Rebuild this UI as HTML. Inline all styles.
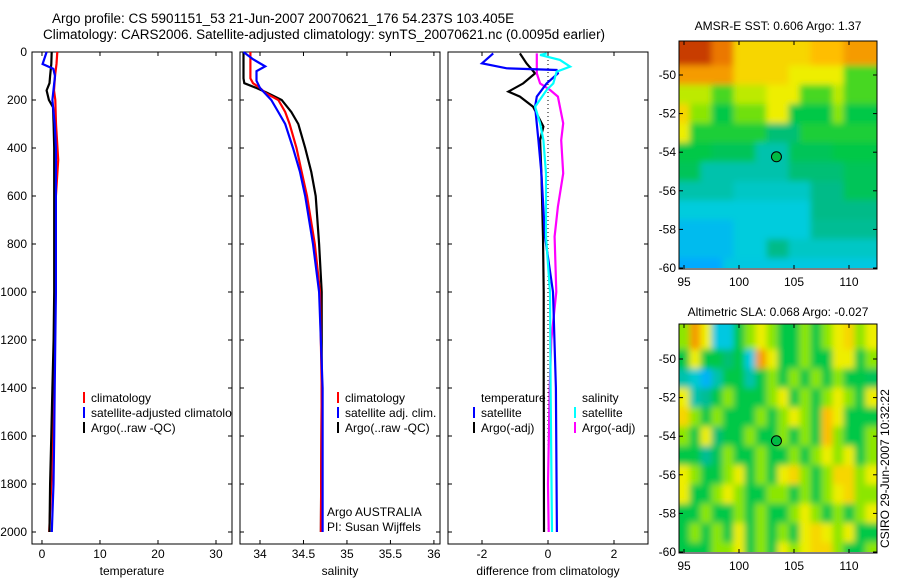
<!DOCTYPE html>
<html><head><meta charset="utf-8"><style>
body{margin:0;background:#fff;}
svg{display:block;font-family:"Liberation Sans",sans-serif;}
text{fill:#000;}
</style></head><body>
<svg id="fig" width="900" height="580" viewBox="0 0 900 580">
<defs>
<filter id="smooth" x="-5%" y="-5%" width="110%" height="110%"><feGaussianBlur stdDeviation="3.2" edgeMode="duplicate"/></filter>
<clipPath id="legclip"><rect x="32" y="380" width="200" height="60"/></clipPath>
</defs>
<text x="52" y="23" font-size="13.5">Argo profile: CS 5901151_53 21-Jun-2007 20070621_176 54.237S 103.405E</text>
<text x="43" y="39" font-size="13.5">Climatology: CARS2006. Satellite-adjusted climatology: synTS_20070621.nc (0.0095d earlier)</text>
<text x="778" y="30" font-size="12" text-anchor="middle">AMSR-E SST: 0.606 Argo: 1.37</text>
<text x="778" y="316" font-size="12" text-anchor="middle">Altimetric SLA: 0.068 Argo: -0.027</text>
<text transform="translate(889,548) rotate(-90)" font-size="12">CSIRO 29-Jun-2007 10:32:22</text>
</svg>
<script>
// ---- profile data ----
const depthTClim=[0,50,100,160,200,300,450,600,1000,1400,1800,2000];
const tClim=[2.64,2.5,2.24,2.07,2.3,2.41,2.8,2.4,2.36,2.0,1.6,1.25];
const depthTSat=[0,50,70,100,200,300,400,1000,1400,1600,1800,2000];
const tSat=[0.8,0.1,1.95,2.24,1.8,2.2,2.4,2.4,2.2,2.1,1.98,1.7];
const depthTArgo=[0,50,100,130,160,200,230,300,400,800,1000,1200,1400,1600,1800,2000];
const tArgo=[1.67,1.6,1.4,1.3,0.8,1.2,1.9,2.0,2.1,2.1,2.1,2.0,1.8,1.6,1.4,1.3];
const depthS=[0,110,130,150,170,200,250,300,400,500,600,800,1000,1400,2000];
const sArgo=[33.81,33.81,33.82,33.96,34.08,34.25,34.36,34.44,34.52,34.59,34.64,34.68,34.71,34.71,34.70];
const sClim=[33.89,33.89,33.92,34.0,34.06,34.21,34.29,34.34,34.42,34.48,34.54,34.63,34.69,34.71,34.70];
const depthSSat=[0,30,60,80,120,150,200,250,300,400,500,600,800,1000,1400,2000];
const sSat=[33.81,33.92,34.06,33.96,33.96,34.0,34.13,34.21,34.29,34.38,34.46,34.52,34.61,34.68,34.72,34.72];
const depthDiffTSat=[6,47,68,75,89,131,186,228,367,506,769,1000,1400,2000];
const dTSat=[-1.66,-2.0,-1.25,0.26,0.3,-0.04,-0.34,-0.39,-0.29,-0.2,-0.09,0.15,0.24,0.27];
const depthDiffTArgo=[6,47,89,131,165,186,228,311,367,506,769,1000,1400,2000];
const dTArgo=[-0.85,-0.65,-0.39,-0.75,-1.2,-0.85,-0.45,-0.14,-0.24,-0.2,-0.15,-0.13,-0.13,-0.12];
const depthDiffSSat=[6,12,33,61,82,131,158,228,297,367,506,769,1000,1400,2000];
const dSSat=[-0.04,-0.24,0.36,0.67,0.26,0.16,-0.04,-0.39,-0.24,-0.14,-0.06,-0.06,0.06,0.08,0.12];
const depthDiffSArgo=[6,89,131,158,186,297,367,506,644,769,1000,1200,1400,1800,2000];
const dSArgo=[-0.34,-0.34,-0.24,0.06,0.3,0.46,0.4,0.46,0.3,0.2,0.25,0.1,0.05,0.0,0.02];
const depthTicks=[0,200,400,600,800,1000,1200,1400,1600,1800,2000];
const tTicks=[0,10,20,30];
const sTicks=[34,34.5,35,35.5,36];
const sTickLabels=["34","34.5","35","35.5","36"];
const dTicks=[-2,0,2];
// ---- map data (rows lat 49..60, cols lon 95..112) ----
const mapLons=[95,96,97,98,99,100,101,102,103,104,105,106,107,108,109,110,111,112];
const mapLats=[49,50,51,52,53,54,55,56,57,58,59,60];
const sstGrid=[
[9,9,9,8,8,6.5,6.5,6.5,6.5,6.5,6.5,6.5,7,7,7,7.5,7.5,7.5],
[7.5,7.5,7.5,7.5,7.5,6.5,6.5,6.5,6.5,6.5,6,6,6,6,6,4.5,4.5,4.5],
[5.5,5.5,5.5,4.5,4.5,5.5,5.5,5.5,6,6,6,4.5,4.5,4.5,5.5,4.5,4.5,4.5],
[6.5,5,5,4,4,4.8,4.8,4.8,6,6,4,4,4,4,5,4,4,4],
[6,4.2,4.2,4.2,4.2,4.2,4.2,4.2,3.5,3.5,3.5,4.2,4.2,4.2,4.2,4.2,4.2,4.2],
[4,4,4,3.8,3.8,3.8,3.8,3,3,3,3.8,3.8,3.8,3.8,4,4,4,4],
[3.8,3.8,3,3,3,3,3,3,3,3,3.5,3.5,3.5,3.5,3.5,3.8,3.8,3.8],
[3,3,3,3,3,2.8,2.8,2.8,2.8,2.8,2.8,2.8,3.3,3.3,3.3,3.8,3.8,3.8],
[2.6,2.6,2.6,2.6,2.6,2.6,2.6,2.6,2.6,2.6,2.6,2.6,3.3,3.3,3.3,3.3,3.3,3.3],
[2.2,2.2,2.2,2.2,2.2,2.6,2.6,2.6,2.6,2.6,2.6,2.6,3.2,3.2,3.2,3.2,3.2,3.2],
[2.2,2.2,2.2,2.2,2.2,2.6,2.6,2.6,3.3,3.3,2.8,2.8,2.8,2.8,2.8,2.8,2.8,2.8],
[1.8,1.8,1.8,1.8,2.5,2.5,2.5,2.5,2.5,2.5,2.5,2.5,2.5,2.5,2.5,2.5,2.5,2.5]];
const slaGrid=[
[5,7.5,6,2.5,2.5,4,5,6,5,4,4,5,4,5,6,6.5,5,6],
[4,6,4,4,3.5,4,2.5,7.5,6,4,4,5,4,4,6,6,4,5],
[3,2.7,2,3,4,4,3,4,5,4,5,4,5,4,5,4,4,3.8],
[6,3,3.2,4,5,4,4,4,5,6,4,5,4,5,6,5,4,6],
[6.5,5,4,5,4,4,4,5,4,5,6,5,4,7,6,4,4,4],
[5,4,6,3.5,4,4,5,4,4,5,4,5,4,7,5,4,4,5],
[4,4,3.2,3.8,5,4,4,5,4,4,5,4,5,6,5,6,4,5],
[6,5,4,4,5,6,4,5,4,6,6.5,5,4,5,6.5,6.5,5,6],
[6,4,4,5,6,5,4,4,5,5,4,5,4,5,6,6.5,5,5],
[4,4,5,4,4,5,4,5,4,4,5,6,5,4,5,4,5,6],
[4,5,4,5,4,6,4,5,4,5,4,6,6.5,6,5,6,4,4],
[4,4,4,5,5,6,4,5,4,6,5,6,6.5,6.5,5,4,4,5]];
const argoLon=103.405, argoLat=54.237;

const NS='http://www.w3.org/2000/svg';
const svg=document.getElementById('fig');
function mk(tag,attrs,parent){const e=document.createElementNS(NS,tag);for(const k in attrs)e.setAttribute(k,attrs[k]);(parent||svg).appendChild(e);return e;}

const yTop=52, yBot=544, dMax=2050;
const yD=d=>yTop+(yBot-yTop)*d/dMax;
const panels=[
 {x0:32,x1:232,v0:-1.72,v1:32.76,name:'temperature-panel',title:'temperature'},
 {x0:240,x1:440,v0:33.77,v1:36.07,name:'salinity-panel',title:'salinity'},
 {x0:448,x1:648,v0:-3.03,v1:3.03,name:'difference-panel',title:'difference from climatology'}];
function xf(p){return v=>p.x0+(p.x1-p.x0)*(v-p.v0)/(p.v1-p.v0);}

panels.forEach((p,i)=>{
 const g=mk('g',{});
 
 
 const r=mk('rect',{x:p.x0,y:yTop,width:p.x1-p.x0,height:yBot-yTop,fill:'none',stroke:'#000','stroke-width':1},g);
 
 
 depthTicks.forEach(d=>{
  mk('line',{x1:p.x0,x2:p.x0+4,y1:yD(d),y2:yD(d),stroke:'#000'},g);
  mk('line',{x1:p.x1,x2:p.x1-4,y1:yD(d),y2:yD(d),stroke:'#000'},g);
  if(i===0){const t=mk('text',{x:p.x0-5,y:yD(d)+4,'font-size':12,'text-anchor':'end'},g);t.textContent=d;
   
   }
 });
 const X=xf(p);
 const ticks=i===0?tTicks:i===1?sTicks:dTicks;
 ticks.forEach((v,j)=>{
  mk('line',{x1:X(v),x2:X(v),y1:yBot,y2:yBot-4,stroke:'#000'},g);
  mk('line',{x1:X(v),x2:X(v),y1:yTop,y2:yTop+4,stroke:'#000'},g);
  const t=mk('text',{x:X(v),y:yBot+14,'font-size':12,'text-anchor':'middle'},g);
  t.textContent=i===1?sTickLabels[j]:String(v);
  
  
 });
 const tt=mk('text',{x:(p.x0+p.x1)/2,y:575,'font-size':12,'text-anchor':'middle'},g);
 tt.textContent=p.title;
 
 
});

function series(pi,depths,vals,color,name){
 const X=xf(panels[pi]);
 const pts=depths.map((d,k)=>X(vals[k]).toFixed(1)+','+yD(d).toFixed(1)).join(' ');
 const l=mk('polyline',{points:pts,fill:'none',stroke:color,'stroke-width':2.2});
 
 
}
{const X=xf(panels[2]);const z=mk('line',{x1:X(0),x2:X(0),y1:yD(0),y2:yD(2000),stroke:'#000','stroke-dasharray':'1,3'});
 
 }
series(0,depthTClim,tClim,'#f00','temp-climatology-line');
series(0,depthTArgo,tArgo,'#000','temp-argo-line');
series(0,depthTSat,tSat,'#00f','temp-satellite-line');
series(1,depthS,sArgo,'#000','sal-argo-line');
series(1,depthS,sClim,'#f00','sal-climatology-line');
series(1,depthSSat,sSat,'#00f','sal-satellite-line');
series(2,depthDiffTArgo,dTArgo,'#000','diff-temp-argo-line');
series(2,depthDiffSArgo,dSArgo,'#f0f','diff-sal-argo-line');
series(2,depthDiffTSat,dTSat,'#00f','diff-temp-satellite-line');
series(2,depthDiffSSat,dSSat,'#0ff','diff-sal-satellite-line');

function leg(x,y,color,label,name,clip){
 const host=clip?mk('g',{'clip-path':'url(#legclip)'}):svg;
 if(color){const m=mk('line',{x1:x,x2:x,y1:y-10,y2:y+1,stroke:color,'stroke-width':2},host);
  
  }
 const t=mk('text',{x:x+7,y:y,'font-size':12},host);t.textContent=label;
 
 
}
leg(84,402,'#f00','climatology','legend-climatology');
leg(84,417,'#00f','satellite-adjusted climatology','legend-satellite-adjusted',true);
leg(84,432,'#000','Argo(..raw -QC)','legend-argo');
leg(338,402,'#f00','climatology','legend-sal-climatology');
leg(338,417,'#00f','satellite adj. clim.','legend-sal-satellite');
leg(338,432,'#000','Argo(..raw -QC)','legend-sal-argo');
leg(474,402,null,'temperature','legend-temp-header');
leg(474,417,'#00f','satellite','legend-diff-temp-satellite');
leg(474,432,'#000','Argo(-adj)','legend-diff-temp-argo');
leg(575,402,null,'salinity','legend-sal-header');
leg(575,417,'#0ff','satellite','legend-diff-sal-satellite');
leg(575,432,'#f0f','Argo(-adj)','legend-diff-sal-argo');
{const a=mk('text',{x:327,y:516,'font-size':12});a.textContent='Argo AUSTRALIA';
 
 
 const b=mk('text',{x:327,y:531,'font-size':12});b.textContent='PI: Susan Wijffels';
 
 }

const cStops=[[1.8,[0,170,255]],[2.6,[0,204,221]],[3.3,[0,187,136]],[4,[0,200,70]],[5,[140,230,0]],[6,[238,238,0]],[7,[255,190,0]],[8,[235,120,0]],[9,[200,60,0]]];
function cmap(v){
 if(v<=cStops[0][0])return 'rgb('+cStops[0][1]+')';
 for(let k=1;k<cStops.length;k++){if(v<=cStops[k][0]){const a=cStops[k-1],b=cStops[k],f=(v-a[0])/(b[0]-a[0]);
  return 'rgb('+a[1].map((c,q)=>Math.round(c+(b[1][q]-c)*f)).join(',')+')';}}
 return 'rgb('+cStops[cStops.length-1][1]+')';
}
function drawMap(grid,y0,y1,dataBot,lat50y,lat60y,name){
 const x0=679,x1=877;
 const X=lon=>684+(lon-95)*11;
 const Y=lat=>lat50y+(lat-50)*(lat60y-lat50y)/10;
 const g=mk('g',{});
 
 
 const cid=name+'-clip';
 const cp=mk('clipPath',{id:cid},g);mk('rect',{x:x0,y:y0,width:x1-x0,height:dataBot-y0},cp);
 const clipG=mk('g',{'clip-path':'url(#'+cid+')'},g);
 const cells=mk('g',{filter:'url(#smooth)'},clipG);
 const rh=(lat60y-lat50y)/10;
 mapLats.forEach((lat,r)=>mapLons.forEach((lon,c)=>{
  let x=X(lon-0.5), w=11.2, y=Y(lat-0.5), h=rh+0.3;
  if(c===0){x-=12;w+=12;} if(c===mapLons.length-1){w+=12;}
  if(r===0){y-=12;h+=12;} if(r===mapLats.length-1){h+=12;}
  const cell=mk('rect',{x:x,y:y,width:w,height:h,fill:cmap(grid[r][c])},cells);
  
  
 }));
 const f=mk('rect',{x:x0,y:y0,width:x1-x0,height:y1-y0,fill:'none',stroke:'#000'},g);
 
 
 [50,52,54,56,58,60].forEach(lat=>{
  mk('line',{x1:x0,x2:x0+4,y1:Y(lat),y2:Y(lat),stroke:'#000'},g);
  mk('line',{x1:x1,x2:x1-4,y1:Y(lat),y2:Y(lat),stroke:'#000'},g);
  const t=mk('text',{x:x0-3,y:Y(lat)+4,'font-size':12,'text-anchor':'end'},g);t.textContent='-'+lat;
  
  
 });
 [95,100,105,110].forEach(lon=>{
  mk('line',{x1:X(lon),x2:X(lon),y1:y1,y2:y1-4,stroke:'#000'},g);
  mk('line',{x1:X(lon),x2:X(lon),y1:y0,y2:y0+4,stroke:'#000'},g);
  const t=mk('text',{x:X(lon),y:y1+17,'font-size':12,'text-anchor':'middle'},g);t.textContent=lon;
  
  
 });
 const c=mk('circle',{cx:X(argoLon),cy:Y(argoLat),r:5,fill:'#0b4',stroke:'#000','stroke-width':1},g);
 
 
}
drawMap(sstGrid,41,269,268,75,268,'sst-map');
drawMap(slaGrid,324,553,552,359,552,'sla-map');
</script>
</body></html>
